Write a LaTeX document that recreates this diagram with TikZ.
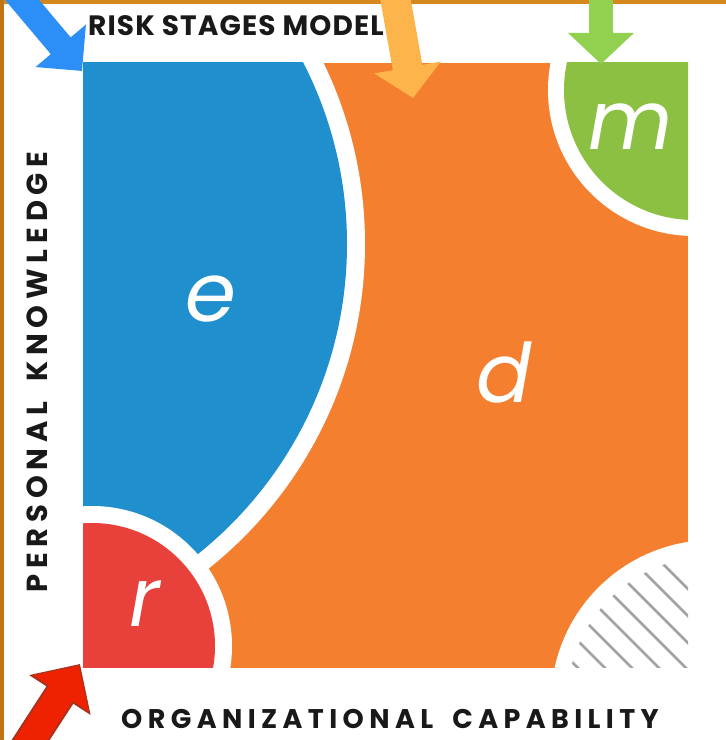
\documentclass[tikz,border=0pt]{standalone}
\usepackage{fontspec}
\setmainfont{Poppins}
\usetikzlibrary{arrows.meta}

\definecolor{frametop}{HTML}{D4881E}
\definecolor{frameleft}{HTML}{C27414}
\definecolor{stageblue}{HTML}{1F8FCD}
\definecolor{stageorange}{HTML}{F47F2E}
\definecolor{stagegreen}{HTML}{8CC043}
\definecolor{stagered}{HTML}{E8403A}
\definecolor{hatchgrey}{HTML}{A3A3A3}
\definecolor{ptrblue}{HTML}{2B8FF7}
\definecolor{ptrorange}{HTML}{FDB44B}
\definecolor{ptrgreen}{HTML}{92D050}
\definecolor{ptrred}{HTML}{EE2200}
\definecolor{ptredge}{HTML}{A8321E}

\begin{document}
\begin{tikzpicture}[x=1pt,y=1pt,
    letter/.style={text=white, inner sep=0pt, anchor=base,
      font=\fontsize{82}{82}\selectfont\itshape},
    axislabel/.style={text=black!90, inner sep=0pt, anchor=base,
      font=\fontsize{#1}{#1}\selectfont\bfseries\addfontfeature{LetterSpace=20}}]
  \path[use as bounding box, clip] (0,0) rectangle (726,740);
  \fill[white] (0,0) rectangle (726,740);
  \fill[frametop] (0,736) rectangle (726,740);
  \fill[frameleft] (0,0) rectangle (4,740);

  \coordinate (sw) at (83,72);
  \coordinate (ne) at (688,677);
  \begin{scope}
    \clip (sw) rectangle (ne);
    \fill[stageorange] (sw) rectangle (ne);
    \fill[white] (-50,496) circle[radius=415pt];
    \fill[stageblue] (-50,496) circle[radius=397pt];
    \fill[white] (92,94) circle[radius=140pt];
    \fill[stagered] (92,94) circle[radius=123pt];
    \fill[white] (694,650) circle[radius=146pt];
    \fill[stagegreen] (694,650) circle[radius=130pt];
    \fill[white] (713,38) circle[radius=162pt];
    \clip (713,38) circle[radius=146pt];
    \foreach \i in {-8,...,6}
      \draw[hatchgrey, line width=2.6pt] (405+27*\i,272) -- ++(300,-300);
  \end{scope}

  \node[letter] (e) at (211,418) {e};
  \node[letter] (d) at (504,337) {d};
  \node[letter] (m) at (631,590) {m};
  \node[letter] (r) at (145,113) {r};

  \node[text=black!90, inner sep=0pt, anchor=base west,
    font=\fontsize{28}{28}\selectfont\bfseries\addfontfeature{LetterSpace=4}] (title) at (88,704) {RISK STAGES MODEL};
  \node[axislabel=27] (xlabel) at (390,11) {ORGANIZATIONAL\hspace{8pt} CAPABILITY};
  \node[axislabel=29, rotate=90] (ylabel) at (47,368) {PERSONAL\hspace{8pt} KNOWLEDGE};

  \coordinate (blue-tail) at (-4,771);
  \coordinate (blue-tip) at (82,669);
  \coordinate (orange-tail) at (391,766);
  \coordinate (orange-tip) at (413,642);
  \coordinate (green-tail) at (601,760);
  \coordinate (green-tip) at (601,676);
  \coordinate (red-tail) at (6,-38);
  \coordinate (red-tip) at (80,76);

  \draw[ptrblue, line width=26pt, -{Triangle[length=33pt,width=64pt]}] (blue-tail) -- (blue-tip);
  \draw[ptrorange, line width=30pt, -{Triangle[length=31pt,width=66pt]}] (orange-tail) -- (orange-tip);
  \draw[ptrgreen, line width=24pt, -{Triangle[length=31pt,width=64pt]}] (green-tail) -- (green-tip);
  \draw[ptredge, line width=32pt, -{Triangle[length=37pt,width=71pt]}] (red-tail) -- (red-tip);
  \draw[ptrred, line width=28pt, shorten >=2pt, -{Triangle[length=33pt,width=64pt]}] (red-tail) -- (red-tip);
\end{tikzpicture}
\end{document}
